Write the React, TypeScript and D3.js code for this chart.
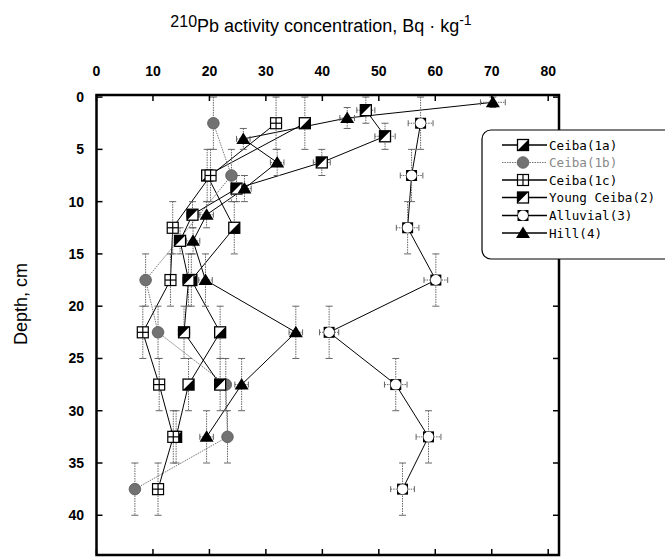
import React from 'react';
import * as d3 from 'd3';

// depth (cm, mid-point of layer) and 210Pb activity (Bq/kg)
const ceiba1aDepth = [2.5, 7.5, 12.5, 17.5, 22.5, 27.5, 32.5];
const ceiba1aValue = [36.9, 19.6, 24.4, 16.8, 21.9, 16.3, 14.1];
const ceiba1aDepthErr = [2.5, 2.5, 2.5, 2.5, 2.5, 2.5, 2.5];
const ceiba1aValueErr = [0, 0, 0, 0, 0, 0, 0];

const ceiba1bDepth = [2.5, 7.5, 17.5, 22.5, 27.5, 32.5, 37.5];
const ceiba1bValue = [20.7, 23.9, 8.7, 10.9, 22.9, 23.2, 6.8];
const ceiba1bDepthErr = [2.5, 2.5, 2.5, 2.5, 2.5, 2.5, 2.5];
const ceiba1bValueErr = [0, 0, 0, 0, 0, 0, 0];

const ceiba1cDepth = [2.5, 7.5, 12.5, 17.5, 22.5, 27.5, 32.5, 37.5];
const ceiba1cValue = [31.8, 20.2, 13.5, 13.1, 8.2, 11.1, 13.6, 10.9];
const ceiba1cDepthErr = [2.5, 2.5, 2.5, 2.5, 2.5, 2.5, 2.5, 2.5];
const ceiba1cValueErr = [0, 0, 0, 0, 0, 0, 0, 0];

const youngDepth = [1.25, 3.75, 6.25, 8.75, 11.25, 13.75, 17.5, 22.5, 27.5];
const youngValue = [47.7, 51.1, 39.9, 24.8, 17.0, 14.8, 16.3, 15.5, 21.9];
const youngDepthErr = [1.25, 1.25, 1.25, 1.25, 1.25, 1.25, 2.5, 2.5, 2.5];
const youngValueErr = [1.6, 1.8, 1.5, 1, 1, 1, 1, 1, 1];

const alluvialDepth = [2.5, 7.5, 12.5, 17.5, 22.5, 27.5, 32.5, 37.5];
const alluvialValue = [57.4, 55.8, 55.1, 60.1, 41.2, 53.0, 58.8, 54.2];
const alluvialDepthErr = [2.5, 2.5, 2.5, 2.5, 2.5, 2.5, 2.5, 2.5];
const alluvialValueErr = [2.2, 2.0, 2.0, 2.1, 1.7, 2.0, 2.2, 2.1];

const hillDepth = [0.5, 2, 4, 6.25, 8.75, 11.25, 13.75, 17.5, 22.5, 27.5, 32.5];
const hillValue = [70.2, 44.4, 26.0, 32.0, 26.2, 19.5, 17.1, 19.3, 35.3, 25.7, 19.5];
const hillDepthErr = [0.5, 1, 1, 1.25, 1.25, 1.25, 1.25, 2.5, 2.5, 2.5, 2.5];
const hillValueErr = [2.2, 1.3, 1.2, 1.2, 1.2, 1.2, 1.2, 1.2, 1.2, 1.2, 1.2];

const seriesNames = ['Ceiba(1a)', 'Ceiba(1b)', 'Ceiba(1c)', 'Young Ceiba(2)', 'Alluvial(3)', 'Hill(4)'];
const xTicks = [0, 10, 20, 30, 40, 50, 60, 70, 80];
const yTicks = [0, 5, 10, 15, 20, 25, 30, 35, 40];

const W = 665, H = 558;
const frame = { left: 96.5, right: 559, top: 95, bottom: 555 };

const x = d3.scaleLinear().domain([0, 82]).range([96.5, 559.5]);
const y = d3.scaleLinear().domain([-0.2, 43.8]).range([frame.top, frame.bottom]);

const build = (depth, value, dErr, vErr) =>
  depth.map((d, i) => ({ d, v: value[i], de: dErr[i], ve: vErr[i] }));

const series = [
  { key: '1a', marker: 'halfLR', gray: false, pts: build(ceiba1aDepth, ceiba1aValue, ceiba1aDepthErr, ceiba1aValueErr) },
  { key: '1b', marker: 'grayCircle', gray: true, pts: build(ceiba1bDepth, ceiba1bValue, ceiba1bDepthErr, ceiba1bValueErr) },
  { key: '1c', marker: 'grid', gray: false, pts: build(ceiba1cDepth, ceiba1cValue, ceiba1cDepthErr, ceiba1cValueErr) },
  { key: '2', marker: 'halfUL', gray: false, pts: build(youngDepth, youngValue, youngDepthErr, youngValueErr) },
  { key: '3', marker: 'ring', gray: false, pts: build(alluvialDepth, alluvialValue, alluvialDepthErr, alluvialValueErr) },
  { key: '4', marker: 'triangle', gray: false, pts: build(hillDepth, hillValue, hillDepthErr, hillValueErr) },
];

function Marker({ type, cx, cy }) {
  const s = 11, h = s / 2;
  if (type === 'halfLR' || type === 'halfUL') {
    const tri = type === 'halfLR'
      ? `${cx + h},${cy - h} ${cx + h},${cy + h} ${cx - h},${cy + h}`
      : `${cx - h},${cy - h} ${cx + h},${cy - h} ${cx - h},${cy + h}`;
    return (
      <g>
        <rect x={cx - h} y={cy - h} width={s} height={s} fill="#fff" stroke="#000" strokeWidth={1.3} />
        <polygon points={tri} fill="#000" />
      </g>
    );
  }
  if (type === 'grid') {
    return (
      <g stroke="#000" strokeWidth={1.2}>
        <rect x={cx - h} y={cy - h} width={s} height={s} fill="#fff" />
        <line x1={cx} x2={cx} y1={cy - h} y2={cy + h} />
        <line x1={cx - h} x2={cx + h} y1={cy} y2={cy} />
      </g>
    );
  }
  if (type === 'grayCircle') {
    return <circle cx={cx} cy={cy} r={5.8} fill="#727272" stroke="#555" strokeWidth={0.8} />;
  }
  if (type === 'ring') {
    return (
      <g>
        <rect x={cx - h} y={cy - h} width={s} height={s} fill="#000" />
        <circle cx={cx} cy={cy} r={5} fill="#fff" />
      </g>
    );
  }
  return <polygon points={`${cx},${cy - 6.5} ${cx + 7},${cy + 5} ${cx - 7},${cy + 5}`} fill="#000" />;
}

function ErrorBars({ p }) {
  const cx = x(p.v), cy = y(p.d);
  const y0 = y(p.d - p.de), y1 = y(p.d + p.de);
  const cap = 3.5;
  const style = { stroke: '#666', strokeWidth: 1, strokeDasharray: '1.5,1' };
  return (
    <g>
      <line x1={cx} x2={cx} y1={y0} y2={y1} style={style} />
      <line x1={cx - cap} x2={cx + cap} y1={y0} y2={y0} stroke="#666" />
      <line x1={cx - cap} x2={cx + cap} y1={y1} y2={y1} stroke="#666" />
      {p.ve > 0 && (
        <g>
          <line x1={x(p.v - p.ve)} x2={x(p.v + p.ve)} y1={cy} y2={cy} style={style} />
          <line x1={x(p.v - p.ve)} x2={x(p.v - p.ve)} y1={cy - 3} y2={cy + 3} stroke="#666" />
          <line x1={x(p.v + p.ve)} x2={x(p.v + p.ve)} y1={cy - 3} y2={cy + 3} stroke="#666" />
        </g>
      )}
    </g>
  );
}

export default function App() {
  const line = d3.line().x(p => x(p.v)).y(p => y(p.d));
  const tickFont = { fontFamily: 'Liberation Sans, Arial, sans-serif', fontWeight: 'bold', fontSize: 14 };
  const legendRows = [145, 162.5, 180, 197.5, 215.5, 233];

  return (
    <svg width={W} height={H} style={{ position: 'absolute', left: 0, top: 0, background: '#fff' }}>
      <rect width={W} height={H} fill="#fff" />
      {/* title */}
      <text x={321} y={32} textAnchor="middle" fontFamily="Liberation Sans, Arial, sans-serif" fontSize={18}>
        <tspan fontSize={16} dy={-5}>210</tspan>
        <tspan dy={5}>Pb activity concentration, Bq · kg</tspan>
        <tspan fontSize={14} dy={-7}>-1</tspan>
      </text>
      <text transform="translate(27,304) rotate(-90)" textAnchor="middle" fontFamily="Liberation Sans, Arial, sans-serif" fontSize={18}>
        Depth, cm
      </text>

      {/* series lines */}
      {series.map(s => (
        <path key={'l' + s.key} d={line(s.pts)} fill="none"
          stroke={s.gray ? '#777' : '#000'} strokeWidth={1}
          strokeDasharray={s.gray ? '1.5,1' : null} />
      ))}
      {/* error bars */}
      {series.map(s => (
        <g key={'e' + s.key}>
          {s.pts.map((p, i) => <ErrorBars key={i} p={p} />)}
        </g>
      ))}
      {/* markers */}
      {series.map(s => (
        <g key={'m' + s.key}>
          {s.pts.map((p, i) => <Marker key={i} type={s.marker} cx={x(p.v)} cy={y(p.d)} />)}
        </g>
      ))}

      {/* frame and ticks */}
      <rect x={frame.left} y={frame.top} width={frame.right - frame.left} height={frame.bottom - frame.top}
        fill="none" stroke="#000" strokeWidth={2.5} />
      <g stroke="#000" strokeWidth={1.5}>
        {xTicks.map(t => (
          <g key={'xt' + t}>
            <line x1={x(t)} x2={x(t)} y1={frame.top} y2={frame.top + 6} />
            <line x1={x(t)} x2={x(t)} y1={frame.bottom} y2={frame.bottom - 6} />
          </g>
        ))}
        {yTicks.map(t => (
          <g key={'yt' + t}>
            <line x1={frame.left} x2={frame.left + 6} y1={y(t)} y2={y(t)} />
            <line x1={frame.right} x2={frame.right - 6} y1={y(t)} y2={y(t)} />
          </g>
        ))}
      </g>
      {xTicks.map(t => (
        <text key={'xl' + t} x={x(t)} y={76} textAnchor="middle" style={tickFont}>{t}</text>
      ))}
      {yTicks.map(t => (
        <text key={'yl' + t} x={84} y={y(t)} dy="0.36em" textAnchor="end" style={tickFont}>{t}</text>
      ))}

      {/* legend */}
      <rect x={482} y={130} width={240} height={129} rx={9} ry={9} fill="#fff" stroke="#000" strokeWidth={1.2} />
      {series.map((s, i) => (
        <g key={'lg' + s.key}>
          <line x1={502} x2={547} y1={legendRows[i]} y2={legendRows[i]}
            stroke={s.gray ? '#777' : '#000'} strokeWidth={s.gray ? 1 : 1.3}
            strokeDasharray={s.gray ? '1.5,1' : null} />
          <Marker type={s.marker} cx={523} cy={legendRows[i]} />
          <text x={549} y={legendRows[i]} dy="0.36em" fontFamily="DejaVu Sans Mono, monospace" fontSize={12.6}
            fill={s.gray ? '#888' : '#000'}>{seriesNames[i]}</text>
        </g>
      ))}
    </svg>
  );
}
